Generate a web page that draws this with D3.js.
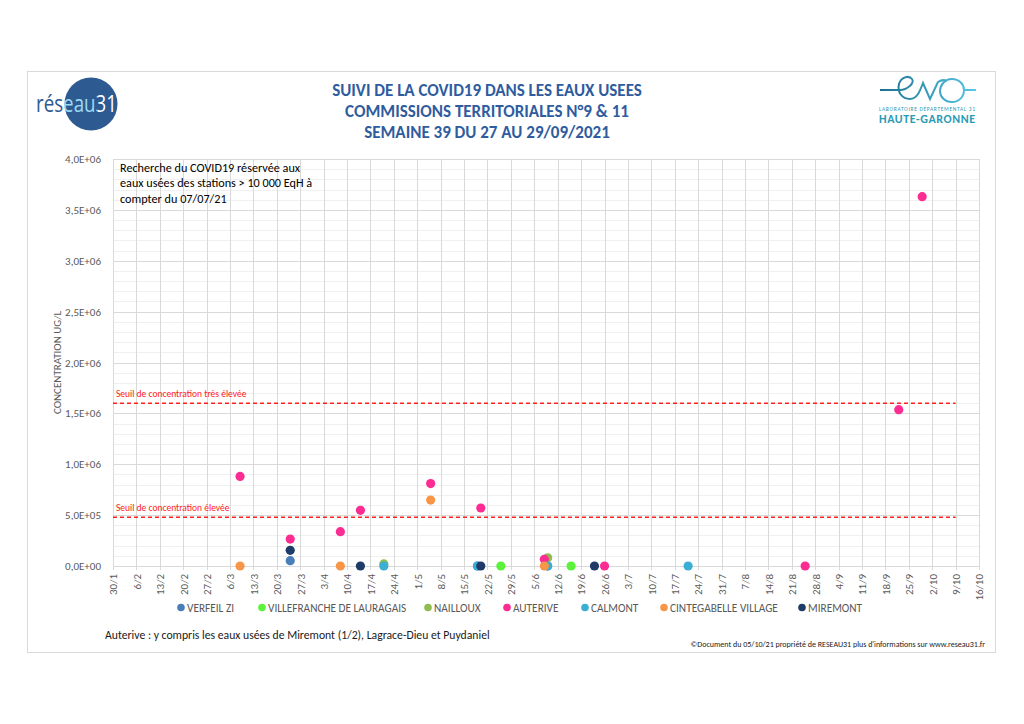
<!DOCTYPE html>
<html>
<head>
<meta charset="utf-8">
<script src="https://cdnjs.cloudflare.com/ajax/libs/d3/7.8.5/d3.min.js"></script>
<style>
  body { margin: 0; background: #fff; }
  svg { display: block; font-family: Carlito, Calibri, "Liberation Sans Narrow", "Open Sans", sans-serif; }
</style>
</head>
<body>
<div id="vis-container"></div>
<script>
// series : [date, concentration]
var verfeil = [["2021-03-24", 52000], ["2021-05-19", 0], ["2021-06-09", 0]];
var villefranche = [["2021-05-26", 0], ["2021-06-16", 0]];
var nailloux = [["2021-04-21", 20000], ["2021-06-09", 80000]];
var auterive = [["2021-03-09", 880000], ["2021-03-24", 265000], ["2021-04-08", 337000],
	["2021-04-14", 547000], ["2021-05-05", 810000], ["2021-05-20", 570000],
	["2021-06-08", 66000], ["2021-06-26", 0], ["2021-08-25", 0],
	["2021-09-22", 1536000], ["2021-09-29", 3630000]];
var calmont = [["2021-04-21", 0], ["2021-05-19", 0], ["2021-06-09", 0], ["2021-07-21", 0]];
var cintegabelle = [["2021-03-09", 0], ["2021-04-08", 0], ["2021-05-05", 648000], ["2021-06-08", 0]];
var miremont = [["2021-03-24", 154000], ["2021-04-14", 0], ["2021-05-20", 0], ["2021-06-23", 0]];

var seriesNames = ["VERFEIL ZI", "VILLEFRANCHE DE LAURAGAIS", "NAILLOUX", "AUTERIVE",
	"CALMONT", "CINTEGABELLE VILLAGE", "MIREMONT"];
var seriesColors = ["#4a7ebb", "#5cf23c", "#8fbc4f", "#fb2d92", "#3aaed3", "#f79646", "#1f3b68"];
var seriesData = [verfeil, villefranche, nailloux, auterive, calmont, cintegabelle, miremont];

// thresholds
var seuilNames = ["Seuil de concentration très élevée", "Seuil de concentration élevée"];
var seuilValues = [1600000, 480000];
var seuilRange = ["2021-01-30", "2021-10-09"];

var xDomain = ["2021-01-30", "2021-10-16"];
var yTicks = [0, 500000, 1000000, 1500000, 2000000, 2500000, 3000000, 3500000, 4000000];

var titleLines = ["SUIVI DE LA COVID19 DANS LES EAUX USEES",
	"COMMISSIONS TERRITORIALES N°9 & 11",
	"SEMAINE 39 DU 27 AU 29/09/2021"];
var noteLines = ["Recherche du COVID19 réservée aux",
	"eaux usées des stations > 10 000 EqH à",
	"compter du 07/07/21"];

var width = 1024, height = 724;
var plot = {left: 113, right: 979, top: 159, bottom: 566};
var parse = d3.utcParse("%Y-%m-%d");

var svg = d3.select("#vis-container").append("svg")
	.attr("width", width)
	.attr("height", height);
var defs = svg.append("defs");

// frame
svg.append("rect")
	.attr("x", 27.5).attr("y", 71.5)
	.attr("width", 968).attr("height", 581)
	.attr("fill", "#fff")
	.attr("stroke", "#d9d9d9");

var x = d3.scaleUtc().domain(xDomain.map(parse)).range([plot.left, plot.right]);
var y = d3.scaleLinear().domain([0, 4000000]).range([plot.bottom, plot.top]);

function sci(v) {
	if (v === 0) return "0,0E+00";
	var e = Math.floor(Math.log10(v));
	var m = v / Math.pow(10, e);
	return m.toFixed(1).replace(".", ",") + "E+" + (e < 10 ? "0" : "") + e;
}

// weekly ticks starting on 30/1
var start = parse(xDomain[0]);
var nWeeks = Math.round((parse(xDomain[1]) - start) / (7 * 864e5));
var weeks = d3.range(nWeeks + 1).map(function(i) { return d3.utcDay.offset(start, 7 * i); });

// grid
var grid = svg.append("g");
grid.selectAll("line.minor")
	.data(d3.range(100000, 4000000, 100000).filter(function(d) { return d % 500000 !== 0; }))
	.enter().append("line")
	.attr("x1", plot.left).attr("x2", plot.right)
	.attr("y1", function(d) { return Math.round(y(d)) + 0.5; })
	.attr("y2", function(d) { return Math.round(y(d)) + 0.5; })
	.attr("stroke", "#f0f0f0");

grid.selectAll("line.v")
	.data(weeks)
	.enter().append("line")
	.attr("x1", function(d) { return Math.round(x(d)) + 0.5; })
	.attr("x2", function(d) { return Math.round(x(d)) + 0.5; })
	.attr("y1", plot.top).attr("y2", plot.bottom + 4)
	.attr("stroke", "#d9d9d9");

grid.selectAll("line.major")
	.data(yTicks)
	.enter().append("line")
	.attr("x1", plot.left).attr("x2", plot.right)
	.attr("y1", function(d) { return Math.round(y(d)) + 0.5; })
	.attr("y2", function(d) { return Math.round(y(d)) + 0.5; })
	.attr("stroke", "#d9d9d9");

// y axis labels
var yAxis = svg.append("g")
	.attr("transform", "translate(" + (plot.left - 9) + ",0)")
	.call(d3.axisLeft(y).tickValues(yTicks).tickFormat(sci).tickSize(0));
yAxis.select(".domain").remove();
yAxis.selectAll("text")
	.attr("fill", "#595959")
	.style("font-size", "11px")
	.style("font-family", "Carlito, Calibri, 'Liberation Sans Narrow', sans-serif");

svg.append("text")
	.attr("transform", "translate(61," + ((plot.top + plot.bottom) / 2) + ") rotate(-90)")
	.attr("text-anchor", "middle")
	.attr("fill", "#595959")
	.style("font-size", "11px")
	.text("CONCENTRATION UG/L");

// x axis labels
var xAxis = svg.append("g")
	.attr("transform", "translate(0," + (plot.bottom + 4) + ")")
	.call(d3.axisBottom(x).tickValues(weeks).tickFormat(d3.utcFormat("%-d/%-m")).tickSize(0));
xAxis.select(".domain").remove();
xAxis.selectAll("text")
	.attr("transform", "rotate(-90)")
	.attr("text-anchor", "end")
	.attr("x", -4)
	.attr("y", 0)
	.attr("dy", "0.35em")
	.attr("fill", "#595959")
	.style("font-size", "11px")
	.style("font-family", "Carlito, Calibri, 'Liberation Sans Narrow', sans-serif");

// thresholds
seuilValues.forEach(function(v, i) {
	svg.append("line")
		.attr("x1", x(parse(seuilRange[0]))).attr("x2", x(parse(seuilRange[1])))
		.attr("y1", y(v)).attr("y2", y(v))
		.attr("stroke", "#ff2020")
		.attr("stroke-width", 1.5)
		.attr("stroke-dasharray", "4,3");
	svg.append("text")
		.attr("x", plot.left + 3)
		.attr("y", y(v) - 6)
		.attr("fill", "#ff2020")
		.style("font-size", "9.5px")
		.text(seuilNames[i]);
});

// note box
svg.append("g").selectAll("text")
	.data(noteLines)
	.enter().append("text")
	.attr("x", plot.left + 7)
	.attr("y", function(d, i) { return 172 + i * 15.3; })
	.attr("fill", "#000")
	.style("font-size", "12.2px")
	.text(function(d) { return d; });

// points
seriesData.forEach(function(s, i) {
	svg.append("g").selectAll("circle")
		.data(s)
		.enter().append("circle")
		.attr("cx", function(d) { return x(parse(d[0])); })
		.attr("cy", function(d) { return y(d[1]); })
		.attr("r", 4.6)
		.attr("fill", seriesColors[i]);
});

// legend
var legendX = [181, 262, 428, 507, 585, 664, 802];
var legend = svg.append("g");
seriesNames.forEach(function(n, i) {
	legend.append("circle")
		.attr("cx", legendX[i]).attr("cy", 607.5).attr("r", 3.8)
		.attr("fill", seriesColors[i]);
	legend.append("text")
		.attr("x", legendX[i] + 6).attr("y", 611.5)
		.attr("fill", "#595959")
		.style("font-size", "11.3px")
		.text(n);
});

// title
svg.append("g").selectAll("text")
	.data(titleLines)
	.enter().append("text")
	.attr("x", 487)
	.attr("y", function(d, i) { return 96 + i * 21; })
	.attr("text-anchor", "middle")
	.attr("fill", "#2f5c9e")
	.style("font-size", "17px")
	.style("font-weight", "bold")
	.text(function(d) { return d; });

// footer
svg.append("text")
	.attr("x", 105).attr("y", 639)
	.attr("fill", "#1a1a1a")
	.style("font-size", "11.7px")
	.text("Auterive : y compris les eaux usées de Miremont (1/2), Lagrace-Dieu et Puydaniel");
svg.append("text")
	.attr("x", 985).attr("y", 647)
	.attr("text-anchor", "end")
	.attr("fill", "#1a1a1a")
	.style("font-size", "8px")
	.text("©Document du 05/10/21 propriété de RESEAU31 plus d'informations sur www.reseau31.fr");

// réseau31 logo : one text, coloured by a hard-stop gradient
var lg = defs.append("linearGradient").attr("id", "logoGrad")
	.attr("gradientUnits", "userSpaceOnUse")
	.attr("x1", 36).attr("x2", 117).attr("y1", 0).attr("y2", 0);
[[0, "#2c5a91"], [0.33, "#2c5a91"], [0.33, "#9adcf5"], [0.76, "#9adcf5"], [0.76, "#ffffff"], [1, "#ffffff"]]
	.forEach(function(s) { lg.append("stop").attr("offset", s[0]).attr("stop-color", s[1]); });
svg.append("circle").attr("cx", 91).attr("cy", 104).attr("r", 26.5).attr("fill", "#2c5a91");
svg.append("text")
	.attr("x", 36).attr("y", 112)
	.attr("textLength", 81)
	.attr("lengthAdjust", "spacingAndGlyphs")
	.attr("fill", "url(#logoGrad)")
	.style("font-size", "23px")
	.style("font-family", "'Open Sans', sans-serif")
	.text("réseau31");

// eva logo
var grad = defs.append("linearGradient").attr("id", "evaGrad");
grad.append("stop").attr("offset", "0%").attr("stop-color", "#1b6f8e");
grad.append("stop").attr("offset", "100%").attr("stop-color", "#57c8e6");
svg.append("path")
	.attr("fill", "none")
	.attr("stroke-width", 2)
	.attr("stroke", "url(#evaGrad)")
	.attr("d", "M880,90 L900,90 C907,90 915,83 912,79 C909,75 901,77 899,84 C897,92 902,99 910,99 C917,99 920,91 923,83 L930,99 L938,82 C941,80 945,80 947,81 M976,90 L964,90 C964,84 959,79 952,79 C945,79 940,85 940,91 C940,97 945,102 952,102 C959,102 964,97 964,90");
svg.append("text")
	.attr("x", 927).attr("y", 111)
	.attr("text-anchor", "middle")
	.attr("fill", "#2a9bb5")
	.attr("textLength", 96)
	.style("font-size", "5.5px")
	.text("LABORATOIRE DÉPARTEMENTAL 31");
svg.append("text")
	.attr("x", 927).attr("y", 123)
	.attr("text-anchor", "middle")
	.attr("fill", "#2a9bb5")
	.attr("textLength", 96)
	.style("font-size", "12px")
	.style("font-weight", "bold")
	.text("HAUTE-GARONNE");
</script>
</body>
</html>
